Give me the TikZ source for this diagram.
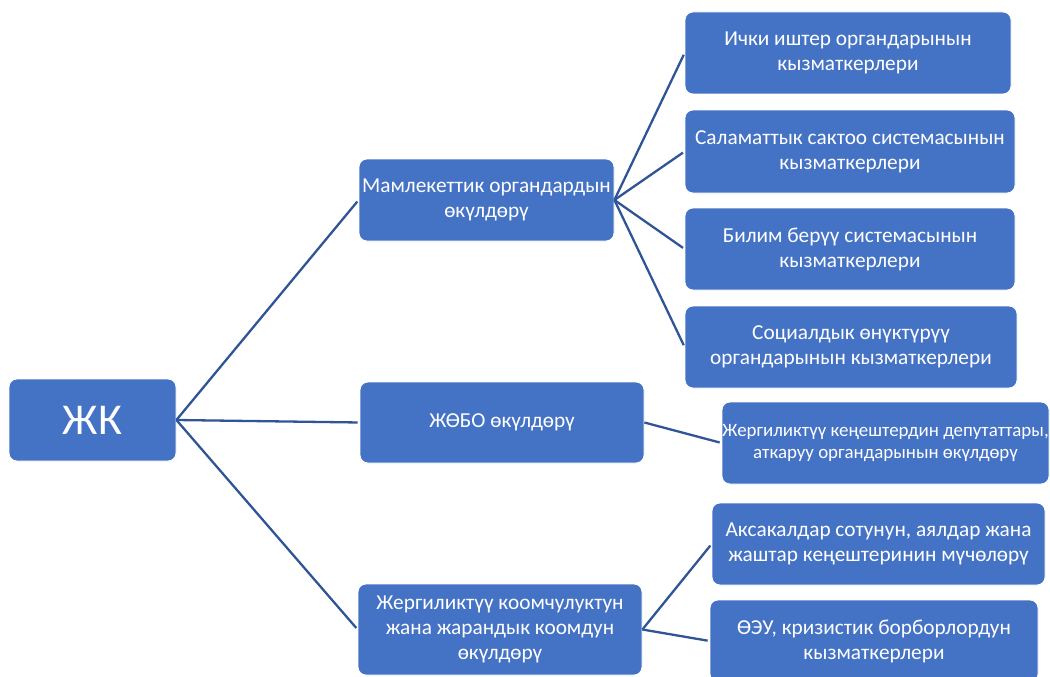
\documentclass[tikz,border=0pt]{standalone}
\usepackage{fontspec}
\setmainfont{Carlito}
\definecolor{boxblue}{RGB}{68,114,196}
\definecolor{lineblue}{RGB}{47,85,151}
\begin{document}
\begin{tikzpicture}[x=1pt,y=-1pt,
  box/.style={rectangle, rounded corners=8pt, fill=boxblue, draw=white, line width=0.8pt,
    text=white, align=center, inner sep=0pt, font=\fontsize{21.3}{25}\selectfont},
  small/.style={font=\fontsize{18.9}{22.5}\selectfont},
  link/.style={draw=lineblue, line width=2.3pt, shorten >=2pt}]
\useasboundingbox (0,0) rectangle (1050,677);
\node[box, minimum width=167pt, minimum height=82pt, font=\fontsize{44}{50}\selectfont] (root) at (92.5,420) {ЖК};
\node[box, minimum width=255pt, minimum height=82pt] (m) at (486.5,200) {Мамлекеттик органдардын\\өкүлдөрү};
\node[box, minimum width=284pt, minimum height=81pt] (z) at (502,422.5) {ЖӨБО өкүлдөрү};
\node[box, minimum width=284pt, minimum height=91pt] (j) at (500,629.5) {Жергиликтүү коомчулуктун\\жана жарандык коомдун\\өкүлдөрү};
\node[box, minimum width=326pt, minimum height=82pt] (i1) at (848,53) {Ички иштер органдарынын\\кызматкерлери};
\node[box, minimum width=330pt, minimum height=83pt] (i2) at (850,151.5) {Саламаттык сактоо системасынын\\кызматкерлери};
\node[box, minimum width=330pt, minimum height=82pt] (i3) at (850,249) {Билим берүү системасынын\\кызматкерлери};
\node[box, minimum width=332pt, minimum height=82pt] (i4) at (851,347) {Социалдык өнүктүрүү\\органдарынын кызматкерлери};
\node[box, small, minimum width=327pt, minimum height=82pt] (d) at (885.5,443) {Жергиликтүү кеңештердин депутаттары,\\аткаруу органдарынын өкүлдөрү};
\node[box, minimum width=333pt, minimum height=82pt] (a) at (878.5,544) {Аксакалдар сотунун, аялдар жана\\жаштар кеңештеринин мүчөлөрү};
\node[box, minimum width=328pt, minimum height=82pt] (o) at (874,641) {ӨЭУ, кризистик борборлордун\\кызматкерлери};
\draw[link] (root.east) -- (m.west);
\draw[link] (root.east) -- (z.west);
\draw[link] (root.east) -- (j.west);
\draw[link] (m.east) -- (i1.west);
\draw[link] (m.east) -- (i2.west);
\draw[link] (m.east) -- (i3.west);
\draw[link] (m.east) -- (i4.west);
\draw[link] (z.east) -- (d.west);
\draw[link] (j.east) -- (a.west);
\draw[link] (j.east) -- (o.west);
\end{tikzpicture}
\end{document}
